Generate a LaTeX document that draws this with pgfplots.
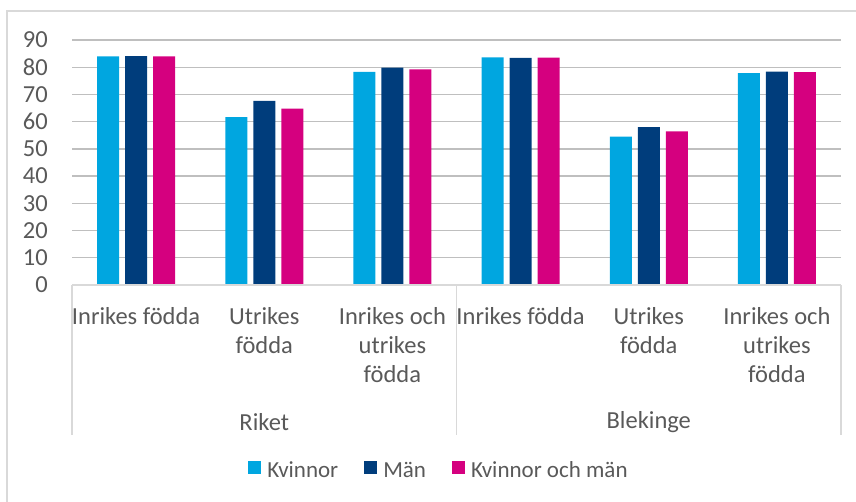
\documentclass[border=0pt]{standalone}
\usepackage{fontspec}
\setmainfont{Carlito}
\usepackage{pgfplots}
\pgfplotsset{compat=1.18}

\definecolor{kv}{HTML}{00A6E0}
\definecolor{man}{HTML}{003D7C}
\definecolor{km}{HTML}{D5007F}
\definecolor{txt}{HTML}{595959}
\definecolor{grid}{HTML}{D9D9D9}

\begin{document}
\begin{tikzpicture}
\useasboundingbox (-72pt,-216pt) rectangle (784pt,285pt);
% outer chart frame (right and bottom edges fall outside the picture)
\draw[grid, line width=1.5pt] (-65pt,-240pt) -- (-65pt,274pt) -- (800pt,274pt);

\begin{axis}[
  scale only axis,
  width=769pt, height=245pt,
  ybar=6pt, bar width=22pt,
  xmin=-0.5, xmax=5.5,
  ymin=0, ymax=90,
  ytick={0,10,...,90},
  xtick={0,...,5},
  xticklabels={Inrikes födda, Utrikes\\födda, Inrikes och\\utrikes\\födda,
               Inrikes födda, Utrikes\\födda, Inrikes och\\utrikes\\födda},
  axis line style={draw=none},
  major tick length=0pt,
  ymajorgrids, xmajorgrids=false, grid style={grid, line width=1.3pt},
  clip=false,
  font=\fontsize{24.5}{29}\selectfont,
  /pgf/number format/assume math mode=true,
  every tick label/.append style={text=txt},
  yticklabel style={anchor=east, inner sep=0pt, xshift=-24pt},
  xticklabel style={anchor=north, align=center, inner sep=0pt, yshift=-22pt},
  legend columns=-1,
  legend style={at={(axis description cs:0.476,-0.755)}, anchor=center,
    draw=none, fill=none, text=txt, font=\fontsize{23}{29}\selectfont,
    nodes={inner sep=0pt},
    /tikz/every odd column/.append style={column sep=6pt},
    /tikz/every even column/.append style={column sep=26pt}},
  legend image code/.code={\fill[#1] (0pt,-3pt) rectangle (13pt,10pt);},
]
\addplot[fill=kv, draw=none] coordinates {(0,84.0) (1,61.7) (2,78.3) (3,83.6) (4,54.5) (5,77.8)};
\addplot[fill=man, draw=none] coordinates {(0,84.1) (1,67.6) (2,79.9) (3,83.4) (4,58.0) (5,78.4)};
\addplot[fill=km, draw=none] coordinates {(0,84.0) (1,64.8) (2,79.2) (3,83.5) (4,56.4) (5,78.2)};
\legend{Kvinnor, Män, Kvinnor och män}

% category axis lines
\draw[grid, line width=1.3pt] (axis cs:-0.5,0) -- (axis cs:5.5,0);
\draw[grid, line width=1.3pt] (axis cs:-0.5,0) -- ([yshift=-150pt]axis cs:-0.5,0);
\draw[grid, line width=1.3pt] (axis cs:2.5,0) -- ([yshift=-150pt]axis cs:2.5,0);
\draw[grid, line width=1.3pt] (axis cs:5.5,0) -- ([yshift=-150pt]axis cs:5.5,0);
\node[text=txt, font=\fontsize{24.5}{29}\selectfont] at ([yshift=-137pt]axis cs:1,0) {Riket};
\node[text=txt, font=\fontsize{24.5}{29}\selectfont] at ([yshift=-137pt]axis cs:4,0) {Blekinge};
\end{axis}
\end{tikzpicture}
\end{document}
